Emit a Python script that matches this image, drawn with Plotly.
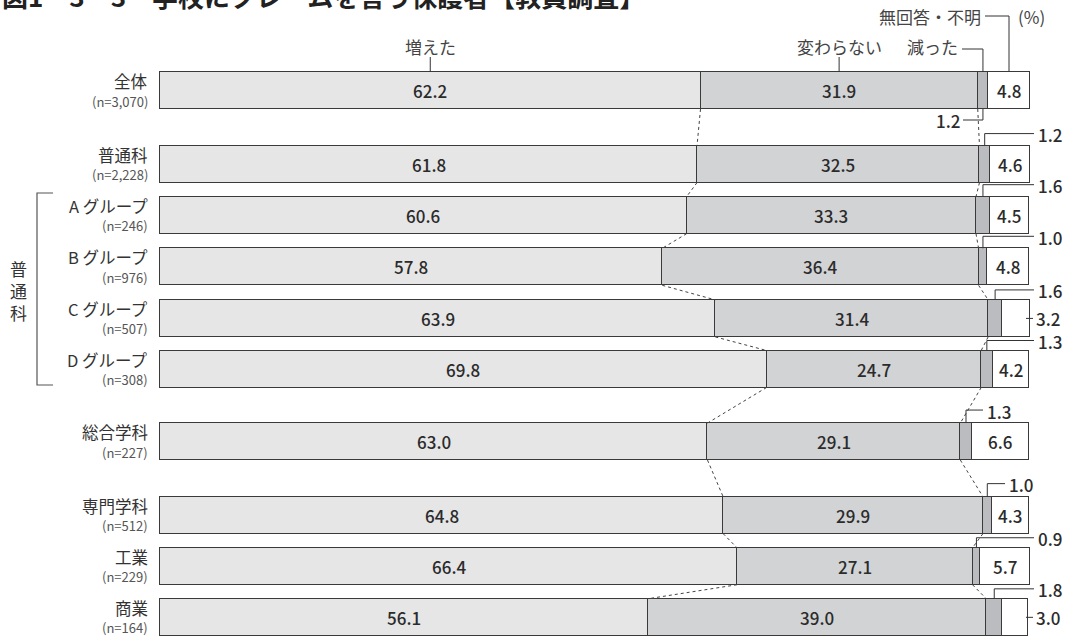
import plotly.graph_objects as go

# ---------------- data ----------------
categories = ["全体", "普通科", "A グループ", "B グループ", "C グループ", "D グループ",
              "総合学科", "専門学科", "工業", "商業"]
n_labels = ["(n=3,070)", "(n=2,228)", "(n=246)", "(n=976)", "(n=507)", "(n=308)",
            "(n=227)", "(n=512)", "(n=229)", "(n=164)"]
series_names = ["増えた", "変わらない", "減った", "無回答・不明"]
increased = [62.2, 61.8, 60.6, 57.8, 63.9, 69.8, 63.0, 64.8, 66.4, 56.1]
unchanged = [31.9, 32.5, 33.3, 36.4, 31.4, 24.7, 29.1, 29.9, 27.1, 39.0]
decreased = [1.2, 1.2, 1.6, 1.0, 1.6, 1.3, 1.3, 1.0, 0.9, 1.8]
no_answer = [4.8, 4.6, 4.5, 4.8, 3.2, 4.2, 6.6, 4.3, 5.7, 3.0]
title_text = "図1－3－3　学校にクレームを言う保護者【教員調査】"
unit_text = "(%)"
group_text = "普<br>通<br>科"

# ---------------- layout helpers ----------------
FONT = "Noto Sans CJK JP"
X0, SX = 160.0, 8.69     # pixel of 0%, pixels per %
Y0, SY = 90.5, 51.1      # pixel of first row centre, pixels per row unit
W, H = 1068, 637


def X(px):
    return (px - X0) / SX


def Y(py):
    return (py - Y0) / SY


row_y = [0, 1.44, 2.44, 3.45, 4.46, 5.45, 6.87, 8.31, 9.31, 10.31]
bar_w = 37 / SY
half = bar_w / 2
dec_label_px = [None, 1036, 1036, 1036, 1036, 1036, 985, 1007, 1036, 1036]
dec_label_rise = [11, 12, 12, 12, 10, 10, 13, 13, 10, 10]

colors = ["#e6e6e7", "#d2d3d5", "#bbbcbf", "#ffffff"]
edge = "#3a3a3a"
txt = "#2b2b2b"

fig = go.Figure()
for name, vals, col in zip(series_names, [increased, unchanged, decreased, no_answer], colors):
    fig.add_trace(go.Bar(
        y=row_y, x=vals, orientation="h", name=name, width=bar_w,
        marker=dict(color=col, line=dict(color=edge, width=1.3)),
        hoverinfo="skip", showlegend=False,
    ))

annotations = []
lx, ly = [], []  # solid leader lines

cum1 = increased
cum2 = [a + b for a, b in zip(increased, unchanged)]
cum3 = [a + b + c for a, b, c in zip(increased, unchanged, decreased)]
val_font = dict(family=FONT, size=17, color=txt, weight=500)

for i, yc in enumerate(row_y):
    # category labels
    annotations.append(dict(x=X(150), y=yc - 9.5 / SY, text=categories[i], xanchor="right",
                            yanchor="middle", showarrow=False,
                            font=dict(family=FONT, size=16.5, color="#333333")))
    annotations.append(dict(x=X(150), y=yc + 10.5 / SY, text=n_labels[i], xanchor="right",
                            yanchor="middle", showarrow=False,
                            font=dict(family=FONT, size=13, color="#555555")))
    # values inside bars
    annotations.append(dict(x=increased[i] / 2, y=yc, text=f"{increased[i]:.1f}",
                            showarrow=False, font=val_font))
    annotations.append(dict(x=cum1[i] + unchanged[i] / 2, y=yc, text=f"{unchanged[i]:.1f}",
                            showarrow=False, font=val_font))
    if no_answer[i] >= 3.5:
        annotations.append(dict(x=cum3[i] + no_answer[i] / 2, y=yc, text=f"{no_answer[i]:.1f}",
                                showarrow=False, font=val_font))
    else:
        lx += [X(1026), X(1033), None]
        ly += [yc, yc, None]
        annotations.append(dict(x=X(1034), y=yc, text=f"{no_answer[i]:.1f}", xanchor="left",
                                showarrow=False, font=val_font))
    # decreased leader
    xm = cum2[i] + decreased[i] / 2
    if i == 0:
        yb = yc + half
        yl = yb + 11 / SY
        lx += [xm, xm, X(963), None]
        ly += [yb, yl, yl, None]
        annotations.append(dict(x=X(962), y=yl, text=f"{decreased[i]:.1f}", xanchor="right",
                                yanchor="middle", showarrow=False, font=val_font))
    else:
        yt = yc - half
        yl = yt - dec_label_rise[i] / SY
        lx += [xm, xm, X(dec_label_px[i] - 2), None]
        ly += [yt, yl, yl, None]
        annotations.append(dict(x=X(dec_label_px[i]), y=yl + 1 / SY, text=f"{decreased[i]:.1f}",
                                xanchor="left", yanchor="middle", showarrow=False, font=val_font))

# dashed connectors between consecutive bars
dx, dy = [], []
for i in range(len(row_y) - 1):
    for c in (cum1, cum2):
        dx += [c[i], c[i + 1], None]
        dy += [row_y[i] + half, row_y[i + 1] - half, None]
fig.add_trace(go.Scatter(x=dx, y=dy, mode="lines", line=dict(color="#444444", width=1, dash="3px,3px"),
                         hoverinfo="skip", showlegend=False))

# legend-style labels above the first bar
top = row_y[0] - half
leg_font = dict(family=FONT, size=17, color="#444444")
xc_inc = increased[0] / 2
xc_unc = cum1[0] + unchanged[0] / 2
xc_dec = cum2[0] + decreased[0] / 2
xc_na = cum3[0] + no_answer[0] / 2
annotations.append(dict(x=xc_inc, y=Y(46), text=series_names[0], showarrow=False, font=leg_font))
annotations.append(dict(x=xc_unc, y=Y(46), text=series_names[1], showarrow=False, font=leg_font))
lx += [xc_inc, xc_inc, None, xc_unc, xc_unc, None]
ly += [Y(57), top, None, Y(57), top, None]
annotations.append(dict(x=X(960), y=Y(46), text=series_names[2], xanchor="right",
                        showarrow=False, font=leg_font))
lx += [X(962), xc_dec, xc_dec, None]
ly += [Y(49), Y(49), top, None]
annotations.append(dict(x=X(983), y=Y(16), text=series_names[3], xanchor="right",
                        showarrow=False, font=leg_font))
lx += [X(985), xc_na, xc_na, None]
ly += [Y(16), Y(16), top, None]
annotations.append(dict(x=X(1016), y=Y(16), text=unit_text, xanchor="left",
                        showarrow=False, font=leg_font))

fig.add_trace(go.Scatter(x=lx, y=ly, mode="lines", line=dict(color="#333333", width=1),
                         hoverinfo="skip", showlegend=False))

# bracket for 普通科 groups
fig.add_trace(go.Scatter(x=[X(53), X(37), X(37), X(53)], y=[Y(193), Y(193), Y(385), Y(385)],
                         mode="lines", line=dict(color="#555555", width=1.2),
                         hoverinfo="skip", showlegend=False))
annotations.append(dict(x=X(18), y=Y(290), text=group_text, showarrow=False,
                        yanchor="middle", font=dict(family=FONT, size=17, color="#333333")))

# title (clipped at the top in the reference)
annotations.append(dict(x=0, xref="paper", y=1 + 4 / H, yref="paper", text=title_text,
                        xanchor="left", yanchor="middle", showarrow=False,
                        font=dict(family=FONT, size=26, color="#222222", weight="bold")))

fig.update_layout(
    width=W, height=H, margin=dict(l=0, r=0, t=0, b=0),
    paper_bgcolor="white", plot_bgcolor="white",
    barmode="stack", bargap=0,
    xaxis=dict(range=[X(0), X(W)], visible=False, fixedrange=True),
    yaxis=dict(range=[Y(H), Y(0)], visible=False, fixedrange=True),
    annotations=annotations,
)

fig.write_html("out.html")
